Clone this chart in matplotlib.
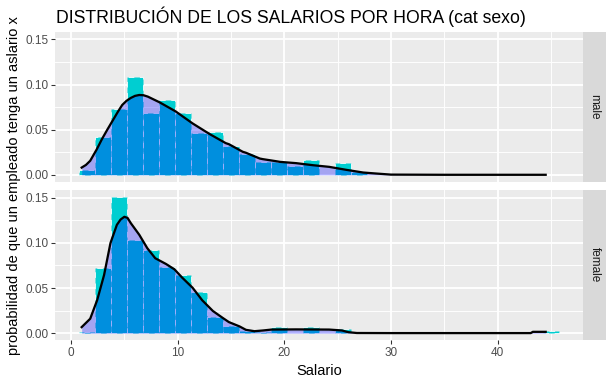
import matplotlib
matplotlib.use("Agg")
import matplotlib.pyplot as plt
import numpy as np

plt.rcParams['font.family'] = ['Liberation Sans', 'DejaVu Sans']

# ---------------- data ----------------
panels = ["male", "female"]

bin_starts = [0.75, 2.25, 3.75, 5.25, 6.75, 8.25, 9.75, 11.25, 12.75, 14.25,
              15.75, 17.25, 18.75, 20.25, 21.75, 23.25, 24.75, 26.25, 27.75, 29.25,
              30.75, 32.25, 33.75, 35.25, 36.75, 38.25, 39.75, 41.25, 42.75, 44.25]
binwidth = 1.5

hist_male = [0.0056, 0.0415, 0.073, 0.108, 0.068, 0.0826, 0.068, 0.046, 0.047, 0.032,
             0.023, 0.0148, 0.0144, 0.0093, 0.0163, 0.0, 0.0137, 0.0037, 0.0, 0.0,
             0.0, 0.0, 0.0, 0.0, 0.0, 0.0, 0.0, 0.0, 0.0, 0.0]
hist_female = [0.0015, 0.0726, 0.151, 0.1028, 0.0916, 0.073, 0.064, 0.0454, 0.0179, 0.0075,
               0.0019, 0.001, 0.007, 0.0, 0.007, 0.0, 0.0048, 0.0, 0.0, 0.0,
               0.0, 0.0, 0.0, 0.0, 0.0, 0.0, 0.0, 0.0, 0.0, 0.0019]

dens_male_x = [1.0, 1.4, 1.8, 2.4, 2.9, 3.4, 3.9, 4.4, 4.8, 5.2, 5.6, 6.0, 6.4, 6.8, 7.2,
               8.3, 9.8, 11.4, 13.0, 14.5, 14.8, 16.1, 16.4, 17.7, 18.0, 19.2, 19.6,
               21.1, 22.7, 24.2, 25.8, 27.4, 28.6, 30.0, 35.0, 40.0, 44.5]
dens_male_y = [0.0081, 0.011, 0.0156, 0.028, 0.0396, 0.050, 0.060, 0.070, 0.0774, 0.0820,
               0.0852, 0.0875, 0.0885, 0.0882, 0.0867, 0.0804, 0.0704, 0.057, 0.0452, 0.0352,
               0.034, 0.0256, 0.0245, 0.0181, 0.0174, 0.0152, 0.0144, 0.013, 0.0107, 0.0089,
               0.0056, 0.0026, 0.0015, 0.0003, 0.0001, 0.0001, 0.0001]

dens_female_x = [1.0, 1.8, 2.45, 3.1, 3.7, 4.3, 4.65, 5.0, 5.3, 5.6, 6.4, 7.15, 7.9, 8.9,
                 9.7, 10.4, 11.4, 12.3, 13.3, 14.2, 14.8, 15.8, 16.4, 17.2, 18.0, 18.8,
                 21.1, 24.2, 25.4, 26.0, 26.8, 30.0, 35.0, 40.0, 43.1, 43.3, 44.5]
dens_female_y = [0.0067, 0.016, 0.0365, 0.0644, 0.0998, 0.120, 0.1259, 0.1289, 0.1277,
                 0.122, 0.109, 0.0942, 0.083, 0.0767, 0.0707, 0.0618, 0.0503, 0.0365, 0.0246,
                 0.0171, 0.0123, 0.0075, 0.0037, 0.0022, 0.003, 0.004, 0.0042, 0.004, 0.003,
                 0.0011, 0.0002, 0.0001, 0.0001, 0.0001, 0.0001, 0.0015, 0.0015]

hist_data = {"male": hist_male, "female": hist_female}
dens_data = {"male": (dens_male_x, dens_male_y), "female": (dens_female_x, dens_female_y)}

x_ticks = [0, 10, 20, 30, 40]
x_minor = [5, 15, 25, 35, 45]
y_ticks = [0.00, 0.05, 0.10, 0.15]
y_tick_labels = ["0.00", "0.05", "0.10", "0.15"]
y_minor = [0.025, 0.075, 0.125]

title = "DISTRIBUCIÓN DE LOS SALARIOS POR HORA (cat sexo)"
xlabel = "Salario"
ylabel = "probabilidad de que un empleado tenga un aslario x"

# ---------------- layout ----------------
W, H = 614, 385
fig = plt.figure(figsize=(W / 96, H / 96), dpi=96)


def rect(l, t, r, b):
    return [l / W, 1 - b / H, (r - l) / W, (b - t) / H]


panel_boxes = {"male": (55, 31.7, 583, 181.7), "female": (55, 190, 583, 340)}

for name in panels:
    l, t, r, b = panel_boxes[name]
    ax = fig.add_axes(rect(l, t, r, b))
    ax.set_facecolor("#EBEBEB")
    for s in ax.spines.values():
        s.set_visible(False)
    ax.set_xlim(-1.5, 48.0)
    ax.set_ylim(-0.00755, 0.1586)
    ax.set_xticks(x_ticks)
    ax.set_xticks(x_minor, minor=True)
    ax.set_yticks(y_ticks)
    ax.set_yticklabels(y_tick_labels)
    ax.set_yticks(y_minor, minor=True)
    ax.grid(which="major", color="white", linewidth=1.4)
    ax.grid(which="minor", color="white", linewidth=0.7)
    ax.set_axisbelow(True)
    ax.tick_params(which="minor", length=0)
    ax.tick_params(which="major", length=2.75, width=0.8, color="#333333",
                   labelsize=8.8, labelcolor="#4D4D4D", pad=2.2)
    if name != panels[-1]:
        ax.tick_params(axis="x", which="both", bottom=False, labelbottom=False)

    ax.bar(bin_starts, hist_data[name], width=binwidth, align="edge",
           color="#00CED1", edgecolor="white", linewidth=0.6,
           linestyle=(0, (7, 7)), zorder=2)
    dx, dy = dens_data[name]
    ax.fill_between(dx, 0, dy, color="blue", alpha=0.3, linewidth=0, zorder=3)
    ax.plot(dx, dy, color="black", linewidth=1.7, zorder=4, solid_joinstyle="round")

    # strip
    sax = fig.add_axes(rect(583, t, 606, b))
    sax.set_facecolor("#D9D9D9")
    sax.set_xticks([])
    sax.set_yticks([])
    for s in sax.spines.values():
        s.set_visible(False)
    sax.text(0.5, 0.5, name, rotation=-90, ha="center", va="center",
             fontsize=8.8, color="#1A1A1A", transform=sax.transAxes)

fig.text(56 / W, 1 - 23 / H, title, fontsize=13.2, ha="left", va="baseline", color="black")
fig.text(319 / W, 1 - 375 / H, xlabel, fontsize=11, ha="center", va="baseline", color="black")
fig.text(14 / W, 1 - 186 / H, ylabel, fontsize=11, rotation=90, ha="center", va="center",
         color="black")

fig.savefig("out.png", dpi=96)
